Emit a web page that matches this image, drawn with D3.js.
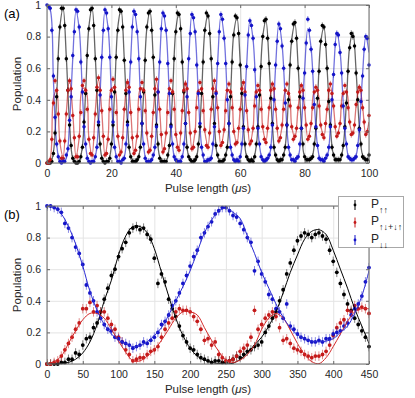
<!DOCTYPE html>
<html>
<head>
<meta charset="utf-8">
<script src="https://cdn.jsdelivr.net/npm/d3@7"></script>
<style>
  body { margin: 0; background: #fff; }
  svg { display: block; font-family: "Liberation Sans", Arial, "DejaVu Sans", sans-serif; }
</style>
</head>
<body>
<div id="chart"></div>
<script>
// ---- panel (a): fast Rabi scan, 0.5 us steps ----
const tA = d3.range(0, 100.001, 0.5);
const tAfit = d3.range(0, 100.001, 1);

const blueA = [1.00,
  0.99,0.98,0.84,0.55,0.29,0.12,0.04,0.01,0.00,0.01,0.01,0.05,0.09,0.27,0.42,0.68,0.83,0.97,
  0.96,0.86,0.64,0.45,0.23,0.12,0.03,0.01,0.00,0.01,0.01,0.04,0.10,0.26,0.43,0.67,0.84,0.97,
  0.95,0.85,0.67,0.42,0.26,0.10,0.04,0.01,0.01,0.00,0.02,0.03,0.12,0.24,0.45,0.64,0.86,0.96,
  0.94,0.83,0.66,0.42,0.25,0.12,0.03,0.01,0.01,0.01,0.02,0.05,0.10,0.23,0.45,0.64,0.85,0.95,
  0.93,0.84,0.63,0.44,0.23,0.12,0.04,0.02,0.01,0.01,0.01,0.04,0.12,0.25,0.42,0.66,0.82,0.94,
  0.92,0.83,0.62,0.44,0.25,0.10,0.05,0.01,0.01,0.02,0.02,0.03,0.12,0.23,0.44,0.63,0.83,0.94,
  0.91,0.79,0.63,0.40,0.25,0.10,0.05,0.02,0.01,0.02,0.01,0.04,0.12,0.22,0.43,0.61,0.81,0.90,
  0.87,0.79,0.59,0.42,0.22,0.12,0.04,0.02,0.01,0.02,0.03,0.05,0.10,0.24,0.40,0.62,0.77,0.88,
  0.85,0.74,0.60,0.38,0.24,0.10,0.05,0.02,0.02,0.01,0.03,0.04,0.12,0.22,0.41,0.57,0.76,0.91,
  0.84,0.72,0.58,0.37,0.23,0.11,0.03,0.02,0.02,0.01,0.03,0.05,0.10,0.23,0.40,0.56,0.75,0.82,
  0.81,0.70,0.57,0.36,0.22,0.12,0.04,0.03,0.02,0.02,0.03,0.04,0.11,0.21,0.39,0.55,0.72,0.80,
  0.79,0.62];

const blackA = [0.00,
  0.00,0.00,0.01,0.06,0.19,0.42,0.66,0.86,0.98,0.98,0.87,0.66,0.46,0.24,0.11,0.03,0.01,0.00,
  0.00,0.01,0.04,0.10,0.26,0.44,0.68,0.85,0.97,0.98,0.87,0.66,0.46,0.24,0.12,0.03,0.01,0.00,
  0.01,0.01,0.03,0.12,0.24,0.45,0.67,0.84,0.97,0.96,0.86,0.65,0.44,0.26,0.10,0.04,0.01,0.01,
  0.01,0.02,0.04,0.10,0.25,0.45,0.65,0.86,0.95,0.96,0.84,0.67,0.43,0.24,0.12,0.03,0.01,0.01,
  0.01,0.01,0.05,0.11,0.24,0.44,0.66,0.83,0.95,0.94,0.85,0.64,0.45,0.25,0.10,0.04,0.02,0.01,
  0.01,0.02,0.04,0.12,0.23,0.44,0.64,0.84,0.95,0.93,0.82,0.66,0.42,0.25,0.11,0.05,0.01,0.01,
  0.01,0.02,0.05,0.10,0.25,0.42,0.64,0.81,0.93,0.92,0.82,0.62,0.44,0.23,0.12,0.04,0.02,0.01,
  0.02,0.01,0.04,0.12,0.23,0.43,0.61,0.80,0.90,0.91,0.79,0.63,0.41,0.25,0.10,0.05,0.02,0.01,
  0.02,0.02,0.05,0.10,0.24,0.40,0.62,0.77,0.88,0.89,0.79,0.60,0.42,0.22,0.12,0.04,0.02,0.02,
  0.02,0.03,0.04,0.12,0.22,0.41,0.58,0.77,0.87,0.86,0.75,0.60,0.39,0.24,0.10,0.05,0.02,0.02,
  0.02,0.02,0.05,0.11,0.23,0.38,0.58,0.73,0.82,0.80,0.74,0.57,0.40,0.22,0.12,0.04,0.03,0.02,
  0.02,0.05];

const redA = [0.00,
  0.00,0.02,0.15,0.38,0.52,0.46,0.31,0.14,0.03,0.03,0.14,0.31,0.46,0.52,0.47,0.30,0.16,0.04,
  0.04,0.17,0.32,0.49,0.52,0.46,0.34,0.15,0.06,0.05,0.16,0.31,0.48,0.54,0.46,0.33,0.17,0.05,
  0.06,0.15,0.34,0.46,0.53,0.48,0.32,0.17,0.05,0.07,0.16,0.34,0.46,0.51,0.48,0.32,0.16,0.06,
  0.08,0.17,0.34,0.47,0.51,0.46,0.33,0.19,0.07,0.08,0.17,0.32,0.47,0.53,0.45,0.34,0.18,0.07,
  0.09,0.19,0.32,0.47,0.52,0.45,0.34,0.18,0.10,0.08,0.19,0.33,0.46,0.50,0.47,0.32,0.19,0.09,
  0.10,0.20,0.35,0.45,0.51,0.47,0.33,0.21,0.11,0.10,0.19,0.34,0.47,0.52,0.45,0.35,0.20,0.11,
  0.13,0.21,0.33,0.46,0.50,0.45,0.35,0.20,0.12,0.13,0.22,0.34,0.47,0.51,0.45,0.33,0.21,0.12,
  0.14,0.22,0.36,0.45,0.49,0.46,0.34,0.23,0.15,0.13,0.22,0.35,0.46,0.50,0.47,0.34,0.22,0.14,
  0.16,0.24,0.34,0.46,0.50,0.44,0.36,0.23,0.15,0.17,0.22,0.35,0.45,0.49,0.46,0.35,0.24,0.15,
  0.17,0.25,0.35,0.45,0.48,0.46,0.36,0.24,0.18,0.16,0.25,0.34,0.46,0.50,0.44,0.36,0.23,0.17,
  0.19,0.25,0.36,0.44,0.49,0.45,0.35,0.26,0.18,0.19,0.24,0.37,0.45,0.48,0.46,0.35,0.26,0.18,
  0.20,0.30];

// fitted curves, read at 1 us
const blueFitA = [1.00,
  0.97,0.52,0.12,0.01,0.00,0.03,0.25,0.66,0.96,
  0.85,0.44,0.11,0.01,0.00,0.04,0.25,0.66,0.96,
  0.85,0.44,0.11,0.01,0.01,0.04,0.25,0.66,0.96,
  0.84,0.44,0.11,0.01,0.01,0.04,0.25,0.65,0.95,
  0.83,0.43,0.11,0.01,0.01,0.04,0.24,0.65,0.94,
  0.82,0.43,0.11,0.01,0.01,0.04,0.24,0.64,0.93,
  0.80,0.42,0.11,0.02,0.01,0.04,0.24,0.62,0.90,
  0.78,0.41,0.11,0.02,0.01,0.04,0.23,0.61,0.88,
  0.75,0.40,0.11,0.02,0.02,0.04,0.23,0.59,0.85,
  0.73,0.39,0.11,0.02,0.02,0.04,0.22,0.57,0.83,
  0.71,0.38,0.11,0.02,0.02,0.05,0.22,0.56,0.80,
  0.70];
const blackFitA = [0.00,
  0.00,0.07,0.42,0.86,0.98,0.67,0.25,0.03,0.00,
  0.01,0.11,0.45,0.86,0.98,0.67,0.25,0.04,0.00,
  0.01,0.11,0.45,0.86,0.97,0.66,0.25,0.04,0.01,
  0.01,0.11,0.44,0.85,0.96,0.66,0.25,0.04,0.01,
  0.01,0.11,0.44,0.84,0.95,0.65,0.25,0.04,0.01,
  0.01,0.11,0.43,0.83,0.94,0.65,0.25,0.04,0.01,
  0.02,0.11,0.43,0.82,0.92,0.64,0.24,0.04,0.01,
  0.02,0.11,0.42,0.80,0.90,0.62,0.24,0.04,0.01,
  0.02,0.11,0.41,0.78,0.88,0.61,0.24,0.04,0.02,
  0.02,0.11,0.40,0.76,0.86,0.59,0.23,0.05,0.02,
  0.02,0.11,0.39,0.74,0.83,0.58,0.23,0.05,0.02,
  0.02];
const redFitA = [0.00,
  0.03,0.41,0.46,0.13,0.04,0.32,0.53,0.32,0.04,
  0.16,0.47,0.47,0.16,0.05,0.33,0.53,0.33,0.05,
  0.17,0.47,0.47,0.17,0.06,0.33,0.53,0.33,0.06,
  0.18,0.47,0.47,0.18,0.07,0.33,0.52,0.33,0.07,
  0.19,0.46,0.46,0.19,0.09,0.33,0.52,0.33,0.09,
  0.20,0.46,0.46,0.20,0.11,0.34,0.51,0.34,0.11,
  0.21,0.46,0.46,0.21,0.12,0.34,0.51,0.34,0.12,
  0.22,0.46,0.46,0.22,0.14,0.35,0.50,0.35,0.14,
  0.23,0.45,0.45,0.23,0.16,0.35,0.50,0.35,0.16,
  0.24,0.45,0.45,0.24,0.17,0.35,0.49,0.35,0.17,
  0.25,0.45,0.45,0.25,0.18,0.36,0.49,0.36,0.18,
  0.26];

// ---- panel (b): slow scan, 5 us steps ----
const tB = d3.range(0, 450.001, 5);
const tBfit = d3.range(0, 450.001, 10);

const blueB = [
  1.00,1.00,0.99,0.98,0.96,0.89,0.86,0.80,0.74,0.70,
  0.63,0.50,0.45,0.40,0.33,0.29,0.25,0.22,0.21,0.17,
  0.16,0.14,0.13,0.12,0.10,0.11,0.12,0.14,0.13,0.15,
  0.17,0.20,0.25,0.27,0.31,0.37,0.40,0.45,0.51,0.56,
  0.62,0.68,0.72,0.80,0.83,0.87,0.90,0.95,0.97,0.99,
  0.99,0.97,0.94,0.93,0.89,0.85,0.80,0.77,0.59,0.65,
  0.57,0.52,0.44,0.41,0.35,0.33,0.29,0.38,0.24,0.22,
  0.19,0.17,0.16,0.15,0.14,0.14,0.15,0.14,0.16,0.16,
  0.19,0.20,0.21,0.24,0.26,0.31,0.35,0.38,0.43,0.52,
  0.61];
const blackB = [
  0.00,0.00,0.00,0.00,0.01,0.01,0.03,0.03,0.07,0.06,
  0.12,0.16,0.17,0.23,0.26,0.33,0.41,0.48,0.56,0.60,
  0.68,0.73,0.77,0.83,0.86,0.87,0.85,0.86,0.82,0.79,
  0.67,0.51,0.57,0.52,0.41,0.35,0.30,0.24,0.18,0.14,
  0.10,0.09,0.06,0.04,0.03,0.02,0.01,0.02,0.02,0.01,
  0.01,0.02,0.03,0.05,0.04,0.06,0.08,0.09,0.11,0.12,
  0.14,0.20,0.24,0.29,0.33,0.40,0.47,0.57,0.64,0.72,
  0.78,0.81,0.83,0.82,0.80,0.82,0.83,0.81,0.79,0.72,
  0.65,0.58,0.51,0.44,0.38,0.34,0.29,0.25,0.21,0.17,
  0.11];
const redB = [
  0.00,0.00,0.01,0.02,0.05,0.09,0.13,0.17,0.22,0.26,
  0.35,0.35,0.39,0.33,0.37,0.33,0.33,0.29,0.25,0.22,
  0.17,0.14,0.09,0.06,0.02,0.03,0.04,0.04,0.06,0.08,
  0.09,0.11,0.17,0.22,0.26,0.29,0.33,0.35,0.34,0.34,
  0.33,0.30,0.27,0.22,0.15,0.16,0.12,0.14,0.06,0.04,
  0.02,0.02,0.03,0.05,0.08,0.10,0.12,0.17,0.34,0.22,
  0.25,0.29,0.31,0.33,0.30,0.23,0.15,0.16,0.13,0.10,
  0.09,0.08,0.06,0.05,0.04,0.05,0.05,0.06,0.08,0.12,
  0.18,0.23,0.26,0.28,0.34,0.33,0.37,0.35,0.36,0.35,
  0.32];

// fitted curves, read at 10 us
const blueFitB = [1.00,0.99,0.95,0.87,0.76,0.62,0.46,0.34,0.25,0.19,
  0.15,0.13,0.11,0.115,0.14,0.18,0.23,0.31,0.40,0.49,
  0.59,0.71,0.83,0.91,0.97,0.985,0.96,0.92,0.81,0.70,
  0.58,0.48,0.38,0.295,0.23,0.185,0.16,0.145,0.14,0.145,
  0.16,0.20,0.24,0.32,0.43,0.59];
const blackFitB = [0,0,0.003,0.01,0.03,0.07,0.14,0.25,0.40,0.53,
  0.69,0.81,0.87,0.87,0.83,0.73,0.58,0.43,0.29,0.18,
  0.10,0.05,0.025,0.01,0.003,0,0.005,0.03,0.07,0.12,
  0.17,0.24,0.33,0.45,0.58,0.69,0.79,0.84,0.85,0.82,
  0.72,0.60,0.48,0.35,0.24,0.13];
const redFitB = [0,0.015,0.05,0.13,0.21,0.28,0.32,0.32,0.29,0.22,
  0.145,0.075,0.02,0.02,0.05,0.09,0.15,0.22,0.29,0.33,
  0.33,0.31,0.23,0.15,0.08,0.025,0.01,0.025,0.06,0.12,
  0.22,0.29,0.32,0.29,0.215,0.13,0.06,0.015,0.002,0.04,
  0.11,0.19,0.27,0.33,0.35,0.35];

const xTicksA = [0, 20, 40, 60, 80, 100];
const xTicksB = [0, 50, 100, 150, 200, 250, 300, 350, 400, 450];
const yTicks = [0, 0.2, 0.4, 0.6, 0.8, 1];
const legendLabels = ["↑↑", "↑↓+↓↑", "↓↓"];

const colBlack = "#000000", colRed = "#c41a1a", colBlue = "#1414c8";
const axisCol = "#262626";

const svg = d3.select("#chart").append("svg")
  .attr("width", 415).attr("height", 398);

function drawPanel(p) {
  const x = d3.scaleLinear().domain(p.xDomain).range([47, 369]);
  const y = d3.scaleLinear().domain([0, 1]).range([p.bottom, p.top]);
  const g = svg.append("g");
  const h = p.bottom - p.top;

  // grid
  g.append("g").attr("transform", `translate(0,${p.bottom})`)
    .call(d3.axisBottom(x).tickValues(p.xTicks).tickSize(-h).tickFormat(""))
    .call(a => a.select(".domain").remove())
    .call(a => a.selectAll("line").attr("stroke", "#e4e4e4"));
  g.append("g").attr("transform", "translate(47,0)")
    .call(d3.axisLeft(y).tickValues(yTicks).tickSize(-322).tickFormat(""))
    .call(a => a.select(".domain").remove())
    .call(a => a.selectAll("line").attr("stroke", "#e4e4e4"));

  const clipId = "clip" + p.name;
  svg.append("clipPath").attr("id", clipId)
    .append("rect").attr("x", 47).attr("y", p.top).attr("width", 322).attr("height", h);

  const line = d3.line().x(d => x(d[0])).y(d => y(d[1])).curve(d3.curveCatmullRom.alpha(0.5));

  function fits() {
    p.fits.forEach(f => {
      g.append("path")
        .attr("clip-path", `url(#${clipId})`)
        .datum(p.tFit.map((t, i) => [t, f.vals[i]]))
        .attr("d", line)
        .attr("fill", "none")
        .attr("stroke", f.col)
        .attr("stroke-width", p.fitWidth)
        .attr("stroke-opacity", p.fitOpacity);
    });
  }

  function points() {
    p.series.forEach(s => {
      const pts = p.t.map((t, i) => [t, s.vals[i]]);
      g.append("g").attr("clip-path", `url(#${clipId})`)
        .selectAll("line").data(pts).join("line")
        .attr("x1", d => x(d[0])).attr("x2", d => x(d[0]))
        .attr("y1", d => y(Math.min(1, d[1] + p.err)))
        .attr("y2", d => y(Math.max(0, d[1] - p.err)))
        .attr("stroke", s.col).attr("stroke-width", 1).attr("stroke-opacity", 0.5);
      g.append("g").selectAll("circle").data(pts).join("circle")
        .attr("cx", d => x(d[0])).attr("cy", d => y(d[1]))
        .attr("r", p.r).attr("fill", s.col);
    });
  }

  if (p.fitsOnTop) { points(); fits(); } else { fits(); points(); }

  // box + inward ticks on all sides
  g.append("rect").attr("x", 47).attr("y", p.top).attr("width", 322).attr("height", h)
    .attr("fill", "none").attr("stroke", "#6a6a6a").attr("stroke-width", 1);

  const xb = g.append("g").attr("transform", `translate(0,${p.bottom})`)
    .call(d3.axisBottom(x).tickValues(p.xTicks).tickSize(-3).tickPadding(7));
  const yl = g.append("g").attr("transform", "translate(47,0)")
    .call(d3.axisLeft(y).tickValues(yTicks).tickSize(-3).tickPadding(6).tickFormat(d3.format("~g")));
  g.append("g").attr("transform", `translate(0,${p.top})`)
    .call(d3.axisTop(x).tickValues(p.xTicks).tickSize(-3).tickFormat(""));
  g.append("g").attr("transform", "translate(369,0)")
    .call(d3.axisRight(y).tickValues(yTicks).tickSize(-3).tickFormat(""));
  g.selectAll(".domain").remove();
  g.selectAll(".tick line").filter(function () { return this.getAttribute("stroke") !== "#e4e4e4"; })
    .attr("stroke", "#6a6a6a");
  [xb, yl].forEach(a => a.selectAll("text")
    .attr("fill", axisCol).style("font-size", "10.5px").style("font-family", "inherit"));

  // labels
  g.append("text").attr("transform", `translate(21,${(p.top + p.bottom) / 2}) rotate(-90)`)
    .attr("text-anchor", "middle").attr("fill", axisCol).style("font-size", "11.5px")
    .text("Population");
  const xl = g.append("text").attr("x", 208).attr("y", p.bottom + 29)
    .attr("text-anchor", "middle").attr("fill", axisCol).style("font-size", "11.5px");
  xl.append("tspan").text("Pulse length (");
  xl.append("tspan").style("font-style", "italic").text("μ");
  xl.append("tspan").text("s)");
  g.append("text").attr("x", 4).attr("y", p.top + 13).attr("fill", "#000")
    .style("font-size", "13px").text(p.tag);
}

drawPanel({
  name: "a", tag: "(a)", xDomain: [0, 100], xTicks: xTicksA, top: 5, bottom: 163,
  t: tA, tFit: tAfit, err: 0.02, r: 1.75, fitWidth: 1.3, fitOpacity: 0.6, fitsOnTop: false,
  series: [{ vals: blackA, col: colBlack }, { vals: redA, col: colRed }, { vals: blueA, col: colBlue }],
  fits: [{ vals: blackFitA, col: colBlack }, { vals: redFitA, col: colRed }, { vals: blueFitA, col: colBlue }]
});

drawPanel({
  name: "b", tag: "(b)", xDomain: [0, 450], xTicks: xTicksB, top: 206, bottom: 364,
  t: tB, tFit: tBfit, err: 0.03, r: 1.9, fitWidth: 1, fitOpacity: 1, fitsOnTop: true,
  series: [{ vals: blackB, col: colBlack }, { vals: redB, col: colRed }, { vals: blueB, col: colBlue }],
  fits: [{ vals: blackFitB, col: colBlack }, { vals: redFitB, col: "#d42a2a" }, { vals: blueFitB, col: "#2a2ad4" }]
});

// legend for panel (b)
const leg = svg.append("g");
leg.append("rect").attr("x", 338.5).attr("y", 196.5).attr("width", 65).attr("height", 51)
  .attr("fill", "#fff").attr("stroke", "#a8a8a8").attr("stroke-width", 1);
const legCols = [colBlack, colRed, colBlue];
legendLabels.forEach((lab, i) => {
  const cy = 205 + i * 17.5;
  leg.append("line").attr("x1", 355).attr("x2", 355).attr("y1", cy - 5).attr("y2", cy + 5)
    .attr("stroke", legCols[i]).attr("stroke-width", 1);
  leg.append("circle").attr("cx", 355).attr("cy", cy).attr("r", 1.4).attr("fill", legCols[i]);
  const tx = leg.append("text").attr("x", 371).attr("y", cy + 2.5).attr("fill", axisCol)
    .style("font-size", "12px");
  tx.append("tspan").text("P");
  tx.append("tspan").attr("dy", 5).style("font-size", "9px").text(lab);
});
</script>
</body>
</html>
